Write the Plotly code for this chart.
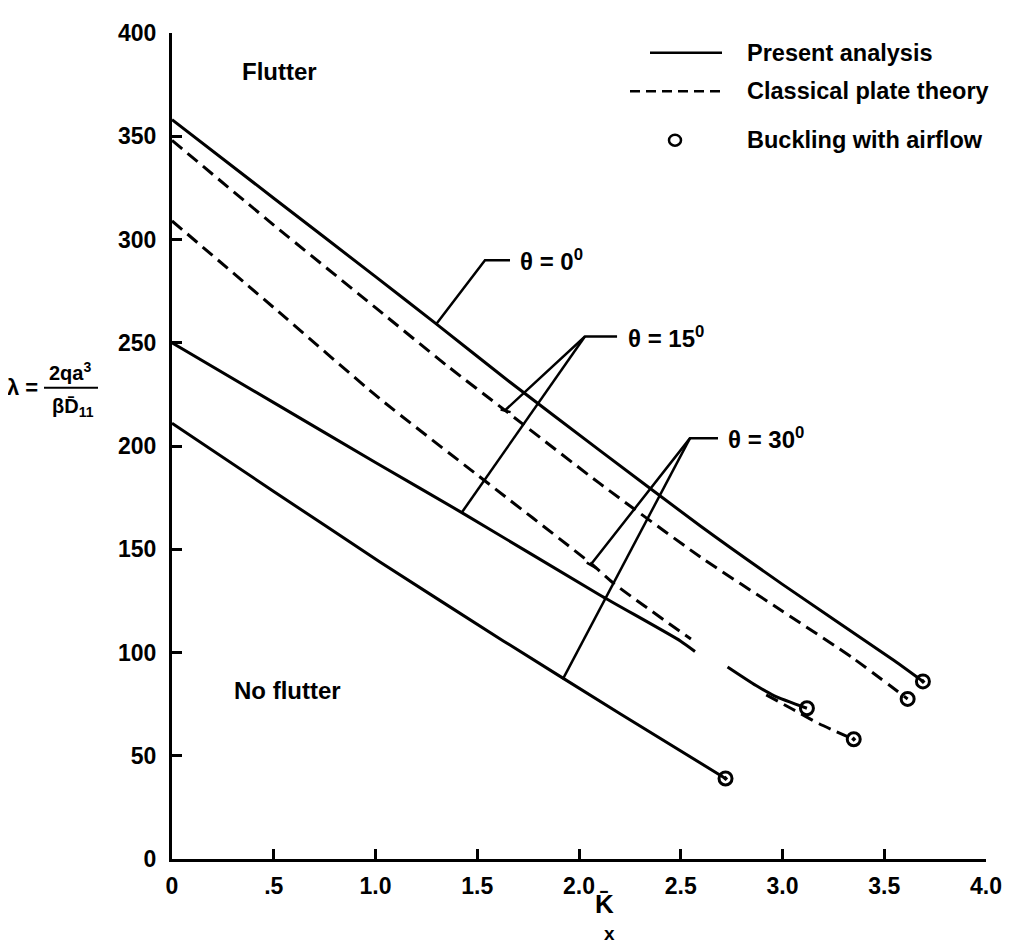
import plotly.graph_objects as go

# ---------------- data (K_x bar, lambda) ----------------
k_t0_present = [0, 0.5, 1.0, 1.3, 1.66, 2.1, 2.6, 3.0, 3.55, 3.69]
l_t0_present = [358, 320, 282, 259, 231, 198, 161, 133, 96, 86]

k_t15_classical = [0, 0.5, 1.0, 1.35, 1.64, 2.1, 2.6, 3.0, 3.35, 3.615]
l_t15_classical = [348, 307, 267, 239, 217, 182, 146, 120, 97, 77.5]

k_t15_present = [0, 0.5, 1.0, 1.42, 2.1, 2.5, 2.57, None, 2.73, 2.87, 2.96, 3.12]
l_t15_present = [250, 221, 192, 168, 128, 105.5, 100.5, None, 93, 84, 79, 73]

k_t30_classical = [0, 0.5, 1.02, 1.5, 2.06, 2.17, 2.55, None, 2.92, 3.05, 3.18, 3.35]
l_t30_classical = [309, 267, 223, 186, 143, 133.5, 106.5, None, 79.5, 72.5, 65.5, 58]

k_t30_present = [0, 0.5, 1.02, 1.63, 2.2, 2.72]
l_t30_present = [211, 178, 144, 105.5, 70.5, 39]

k_buckling = [3.69, 3.615, 3.12, 3.35, 2.72]
l_buckling = [86, 77.5, 73, 58, 39]
buckling_symbols = ["circle-open-dot", "circle-open", "circle-open", "circle-open-dot", "circle-open-dot"]

x_tickvals = [0, 0.5, 1.0, 1.5, 2.0, 2.5, 3.0, 3.5, 4.0]
x_ticktext = ["0", ".5", "1.0", "1.5", "2.0", "2.5", "3.0", "3.5", "4.0"]
y_tickvals = [0, 50, 100, 150, 200, 250, 300, 350, 400]

# theta labels with leader lines (data coords)
theta_labels = [
    dict(text="θ = 0<sup>0</sup>", x=1.70, y=290,
         legs=[[(1.661, 290), (1.538, 290), (1.296, 258.7)]]),
    dict(text="θ = 15<sup>0</sup>", x=2.23, y=253,
         legs=[[(2.187, 253), (2.029, 253), (1.636, 217.2)],
               [(2.029, 253), (1.424, 167.8)],
               [(1.615, 217.7), (1.664, 216.4)]]),
    dict(text="θ = 30<sup>0</sup>", x=2.72, y=203.7,
         legs=[[(2.683, 203.7), (2.545, 203.7), (2.062, 143.1)],
               [(2.545, 203.7), (1.92, 87)],
               [(2.038, 143.5), (2.087, 140.7)]]),
]

# ---------------- layout helpers ----------------
PAGE_W, PAGE_H = 1021, 947
BODY = 8                        # default body margin of the html page
W, H = PAGE_W - BODY, PAGE_H - BODY
L, R, T, B = 172, 986, 23, 859  # plot area in page pixels


def px(x):
    return (x - L) / (R - L)


def py(y):
    return (B - y) / (B - T)


FONT = "Liberation Sans, Arial, sans-serif"
BLACK = "black"

fig = go.Figure()

solid = dict(color=BLACK, width=3, shape="spline", smoothing=0.6)
dashed = dict(color=BLACK, width=3, dash="13px,7px", shape="spline", smoothing=0.6)

for xs, ys, ln in [
    (k_t0_present, l_t0_present, solid),
    (k_t15_classical, l_t15_classical, dashed),
    (k_t15_present, l_t15_present, solid),
    (k_t30_classical, l_t30_classical, dashed),
    (k_t30_present, l_t30_present, solid),
]:
    fig.add_trace(go.Scatter(x=xs, y=ys, mode="lines", line=ln,
                             connectgaps=False, showlegend=False, hoverinfo="skip"))

fig.add_trace(go.Scatter(
    x=k_buckling, y=l_buckling, mode="markers", showlegend=False, hoverinfo="skip",
    marker=dict(symbol=buckling_symbols, size=13, color=BLACK,
                line=dict(color=BLACK, width=3)),
    cliponaxis=False))

shapes = []
annotations = []


def text(txt, x, y, size, xanchor="left", xref="paper", yref="paper"):
    annotations.append(dict(x=x, y=y, xref=xref, yref=yref, text=txt, showarrow=False,
                            xanchor=xanchor, yanchor="middle",
                            font=dict(family=FONT, size=size, color=BLACK, weight="bold")))


# leader lines
for lab in theta_labels:
    for leg in lab["legs"]:
        path = "M " + " L ".join(f"{a},{b}" for a, b in leg)
        shapes.append(dict(type="path", path=path, xref="x", yref="y",
                           line=dict(color=BLACK, width=2.5)))
    text(lab["text"], lab["x"], lab["y"], 24, xref="x", yref="y")

# region labels
text("Flutter", px(240), py(62), 24)
text("No flutter", px(232), py(688), 24)

# manual legend
shapes.append(dict(type="line", xref="paper", yref="paper",
                   x0=px(650), x1=px(722), y0=py(43), y1=py(43),
                   line=dict(color=BLACK, width=2.5)))
shapes.append(dict(type="line", xref="paper", yref="paper",
                   x0=px(630), x1=px(722), y0=py(82), y1=py(82),
                   line=dict(color=BLACK, width=2.5, dash="10px,6px")))
shapes.append(dict(type="circle", xref="paper", yref="paper",
                   x0=px(669), x1=px(681), y0=py(137), y1=py(126),
                   line=dict(color=BLACK, width=2.5)))
text("Present analysis", px(745), py(43), 23.5)
text("Classical plate theory", px(745), py(82), 23.5)
text("Buckling with airflow", px(745), py(131), 23.5)

# y axis title: lambda = 2qa^3 / (beta D11)
text("λ =", px(40), py(382), 22, xanchor="right")
text("2qa<sup>3</sup>", px(70), py(366), 20, xanchor="center")
shapes.append(dict(type="line", xref="paper", yref="paper",
                   x0=px(44), x1=px(98), y0=py(382), y1=py(382),
                   line=dict(color=BLACK, width=2)))
text("βD\u0304<sub>11</sub>", px(50), py(402), 20)

# x axis title
text("K\u0304", px(604), py(905), 26, xanchor="center")
text("x", px(609), py(934), 19, xanchor="center")

axis_common = dict(showline=True, linewidth=3, linecolor=BLACK, showgrid=False,
                   zeroline=False, ticks="inside", ticklen=10, tickwidth=2.5,
                   tickcolor=BLACK, mirror=False,
                   tickfont=dict(family=FONT, size=23, color=BLACK, weight="bold"))

fig.update_layout(
    width=W, height=H, autosize=False,
    margin=dict(l=L - BODY, r=PAGE_W - R, t=T - BODY, b=PAGE_H - B, pad=0),
    paper_bgcolor="white", plot_bgcolor="white",
    showlegend=False,
    xaxis=dict(range=[0, 4], tickvals=x_tickvals, ticktext=x_ticktext,
               ticklabelstandoff=4, **axis_common),
    yaxis=dict(range=[0, 400], tickvals=y_tickvals,
               ticklabelstandoff=8, **axis_common),
    shapes=shapes,
    annotations=annotations,
)

fig.write_html("out.html")
